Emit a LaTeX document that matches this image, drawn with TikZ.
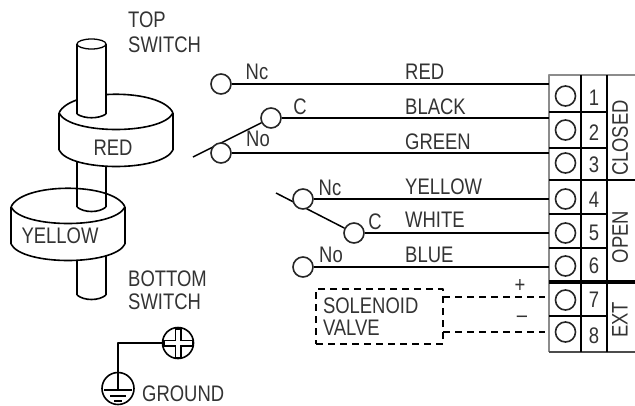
\documentclass[tikz,border=0pt]{standalone}
\usepackage{fontspec}
\setmainfont[FakeStretch=0.82]{Liberation Sans}
\tikzset{
	lab/.style={font=\fontsize{22.5}{22.5}\selectfont,text=black!80,inner sep=0pt,anchor=west},
	midlab/.style={lab,anchor=center},
	term/.style={circle,draw=black!85,line width=1.6pt,fill=white,minimum size=20pt,inner sep=0pt},
	wire/.style={line width=2.6pt},
	dashwire/.style={line width=1.1pt,dash pattern=on 7pt off 5pt},
	rod/.style={line width=2.2pt},
	gridline/.style={line width=2.2pt},
}
\begin{document}
\begin{tikzpicture}[x=1pt,y=-1pt,line join=round]
	\useasboundingbox (0,0) rectangle (635,405);
	% rods and discs, bottom to top
	\foreach \dx/\dy/\ra/\rb in {11/207/250/295,59/113/155/207}{
		\draw[rod] (77,\ra)--(77,\rb);
		\draw[rod] (106,\ra)--(106,\rb);
		\draw[line width=1.6pt] (77,\rb) .. controls (84,\rb+6) and (99,\rb+6) .. (106,\rb);
		\fill[white] (\dx,\dy) .. controls (\dx+11,\dy-25) and (\dx+103,\dy-25) .. (\dx+114,\dy)--(\dx+114,\dy+37) .. controls (\dx+103,\dy+59) and (\dx+11,\dy+59) .. (\dx,\dy+37)--cycle;
		\draw[rod] (\dx,\dy)--(\dx,\dy+37) (\dx+114,\dy)--(\dx+114,\dy+37);
		\draw[line width=1.6pt] (\dx,\dy) .. controls (\dx+11,\dy-25) and (\dx+103,\dy-25) .. (\dx+114,\dy);
		\draw[line width=1.6pt] (\dx,\dy+37) .. controls (\dx+11,\dy+59) and (\dx+103,\dy+59) .. (\dx+114,\dy+37);
		\draw[line width=1.6pt] (\dx,\dy) .. controls (\dx+11,\dy+22) and (\dx+103,\dy+22) .. (\dx+114,\dy);
	}
	\fill[white] (77,44)--(77,114) .. controls (84,119) and (99,119) .. (106,114)--(106,44)--cycle;
	\draw[rod] (77,44)--(77,114);
	\draw[rod] (106,44)--(106,114);
	\draw[line width=1.6pt] (77,114) .. controls (84,119) and (99,119) .. (106,114);
	\draw[line width=1.3pt,fill=white] (91.5,44) ellipse (14.5pt and 5pt);
	\node[midlab] (lred) at (113,148) {RED};
	\node[midlab] (lyel) at (60,236) {YELLOW};
	\node[lab] (ltop) at (128,20) {TOP};
	\node[lab] (lsw1) at (128,45) {SWITCH};
	\node[lab] (lbot) at (128,279) {BOTTOM};
	\node[lab] (lsw2) at (128,302) {SWITCH};
	% ground
	\draw[line width=7pt] (178,328)--(178,358) (163,343)--(193,343);
	\draw[white,line width=3.2pt] (178,329.5)--(178,356.5) (164.5,343)--(191.5,343);
	\node[circle,draw,line width=1.6pt,minimum size=31pt,inner sep=0pt] (screw) at (178,343) {};
	\node[circle,draw,line width=1.6pt,minimum size=32pt,inner sep=0pt] (gnd) at (118,388.5) {};
	\draw[line width=2.2pt] (screw.west) -| (gnd.center);
	\draw[line width=2.2pt] (104,390)--(132,390);
	\draw[line width=2.2pt] (110,396)--(126,396);
	\draw[line width=2.2pt] (114,401)--(122,401);
	\node[lab] (lgnd) at (142,393.5) {GROUND};
	% terminal block
	\draw[black!45,line width=1.5pt] (635,75)--(549,75)--(549,352);
	\draw[black!70,line width=1.5pt] (549,352)--(635,352);
	\draw[gridline] (581,75)--(581,352) (607,75)--(607,352);
	\foreach \y in {112,148,214,248,316}
	\draw[gridline] (549,\y)--(607,\y);
	\draw[gridline] (549,180)--(635,180);
	\draw[line width=3.8pt] (549,282)--(635,282);
	\foreach \n/\y/\ty in {1/96/98,2/130/133,3/163/165,4/199/200,5/233/233,6/266/266,7/300/300,8/332/336}{
		\node[term] (t\n) at (565.5,\y) {};
		\node[midlab] (n\n) at (594,\ty) {\n};
	}
	\node[midlab,rotate=90] (lclosed) at (620,138) {CLOSED};
	\node[midlab,rotate=90] (lopen) at (620,237) {OPEN};
	\node[midlab,rotate=90] (lext) at (620,320) {EXT};
	% block edge
	\foreach \n/\y in {1/84,2/118,3/153,4/199,5/233,6/267}
	\coordinate (w\n) at (549,\y);
	% switch contacts
	\coordinate (la) at (193,157);
	\coordinate (lb) at (276,193);
	\node[term] (ca) at (271,118) {};
	\node[term] (cb) at (354,233) {};
	\draw[line width=1.5pt] (la)--(ca);
	\draw[line width=1.5pt] (lb)--(cb);
	\node[term] (nca) at (221,84) {};
	\node[term] (noa) at (221,153) {};
	\node[term] (ncb) at (303,199) {};
	\node[term] (nob) at (303,267) {};
	\foreach \a/\b in {nca/w1,ca/w2,noa/w3,ncb/w4,cb/w5,nob/w6}
	\draw[wire] (\a)--(\b);
	\foreach \t/\x/\y in {Nc/257/72,C/300/107,No/258/139,Nc/330/188,C/375/222,No/331/255}
	\node[midlab] at (\x,\y) {\t};
	\foreach \t/\y in {RED/72,BLACK/107,GREEN/142,YELLOW/187,WHITE/220,BLUE/255}
	\node[lab] at (405,\y) {\t};
	% solenoid
	\node[dashwire,draw,anchor=center,align=left,text width=113pt,inner xsep=7pt,inner ysep=0pt,minimum height=55pt,font=\fontsize{22.5}{21.5}\selectfont,text=black!80] (sol) at (379.5,316.5) {SOLENOID\\VALVE};
	\coordinate (va) at (443,297);
	\coordinate (vb) at (443,332);
	\coordinate (xa) at (545,297);
	\coordinate (xb) at (545,332);
	\draw[dashwire] (va)--(xa);
	\draw[dashwire] (vb)--(xb);
	\node[midlab] (lplus) at (520,286) {+};
	\node[midlab] (lminus) at (522,319) {–};
\end{tikzpicture}
\end{document}
